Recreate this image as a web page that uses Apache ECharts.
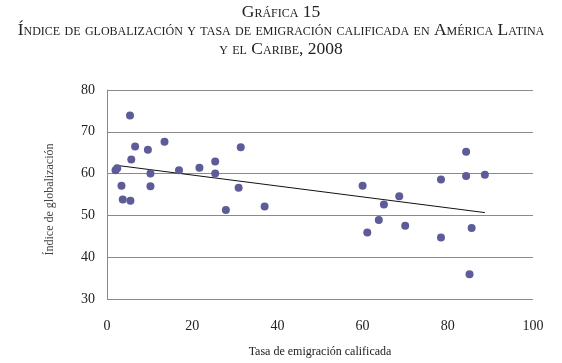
<!DOCTYPE html>
<html>
<head>
<meta charset="utf-8">
<script src="https://cdn.jsdelivr.net/npm/echarts@6/dist/echarts.min.js"></script>
<style>html,body{margin:0;padding:0;background:#fff}#c{width:562px;height:363px}</style>
</head>
<body>
<div id="c"></div>
<script>
var titleLines = ['Gráfica 15', 'Índice de globalización y tasa de emigración calificada en América Latina', 'y el Caribe, 2008'];
var xName = 'Tasa de emigración calificada';
var yName = 'Índice de globalización';
var emigracion = [2.0, 2.4, 5.4, 6.6, 5.7, 3.4, 3.7, 5.5, 9.6, 10.2, 10.2, 13.5, 16.9, 21.7, 25.4, 25.4, 31.4, 30.9, 27.9, 37.0, 60.0, 65.0, 68.6, 78.4, 84.3, 84.3, 88.7, 63.8, 61.1, 70.0, 78.4, 85.6, 85.1];
var globalizacion = [60.8, 61.3, 73.9, 66.5, 63.4, 57.1, 53.8, 53.5, 65.7, 60.0, 57.0, 67.6, 60.8, 61.4, 62.9, 60.0, 66.3, 56.6, 51.3, 52.1, 57.1, 52.6, 54.6, 58.6, 65.2, 59.4, 59.7, 48.9, 45.9, 47.5, 44.7, 47.0, 35.9];
var xTicks = [0, 20, 40, 60, 80, 100];
var yTicks = [30, 40, 50, 60, 70, 80];

var pts = emigracion.map(function (x, i) { return [x, globalizacion[i]]; });
// least squares trend line
var n = pts.length, sx = 0, sy = 0, sxx = 0, sxy = 0;
pts.forEach(function (p) { sx += p[0]; sy += p[1]; sxx += p[0] * p[0]; sxy += p[0] * p[1]; });
var b = (n * sxy - sx * sy) / (n * sxx - sx * sx);
var a = (sy - b * sx) / n;
var xmin = Math.min.apply(null, emigracion), xmax = Math.max.apply(null, emigracion);
var trend = [[xmin, a + b * xmin], [xmax, a + b * xmax]];

var serif = '"Liberation Serif", "DejaVu Serif", serif';
var chart = echarts.init(document.getElementById('c'), null, { renderer: 'canvas' });
chart.setOption({
  animation: false,
  title: {
    text: titleLines.join('\n'),
    left: 'center',
    top: -2,
    textStyle: { fontFamily: serif, fontSize: 17.5, fontWeight: 'normal', fontStyle: 'normal small-caps', color: '#222', lineHeight: 18.5 }
  },
  grid: { left: 107, right: 29, top: 90, bottom: 63 },
  xAxis: {
    type: 'value', min: 0, max: 100, interval: 20,
    name: xName, nameLocation: 'middle', nameGap: 47,
    nameTextStyle: { fontFamily: serif, fontSize: 12, color: '#222' },
    axisLine: { show: false },
    axisTick: { show: false },
    splitLine: { show: false },
    axisLabel: { fontFamily: serif, fontSize: 14, color: '#222', margin: 20 }
  },
  yAxis: {
    type: 'value', min: 30, max: 80, interval: 10,
    name: yName, nameLocation: 'middle', nameGap: 51, nameRotate: 90,
    nameTextStyle: { fontFamily: serif, fontSize: 12, color: '#444', padding: [0, 10, 0, 0] },
    axisLine: { show: true, lineStyle: { color: '#8a8a8a', width: 1 } },
    axisTick: { show: false },
    splitLine: { show: true, lineStyle: { color: '#8a8a8a', width: 1 } },
    axisLabel: { fontFamily: serif, fontSize: 14, color: '#222', margin: 12 }
  },
  series: [
    {
      type: 'scatter', data: pts, symbolSize: 8,
      itemStyle: { color: '#5d5c98', opacity: 1 }, z: 3
    },
    {
      type: 'line', data: trend, showSymbol: false, symbol: 'none',
      lineStyle: { color: '#111', width: 1 }, z: 2
    }
  ]
});
</script>
</body>
</html>
